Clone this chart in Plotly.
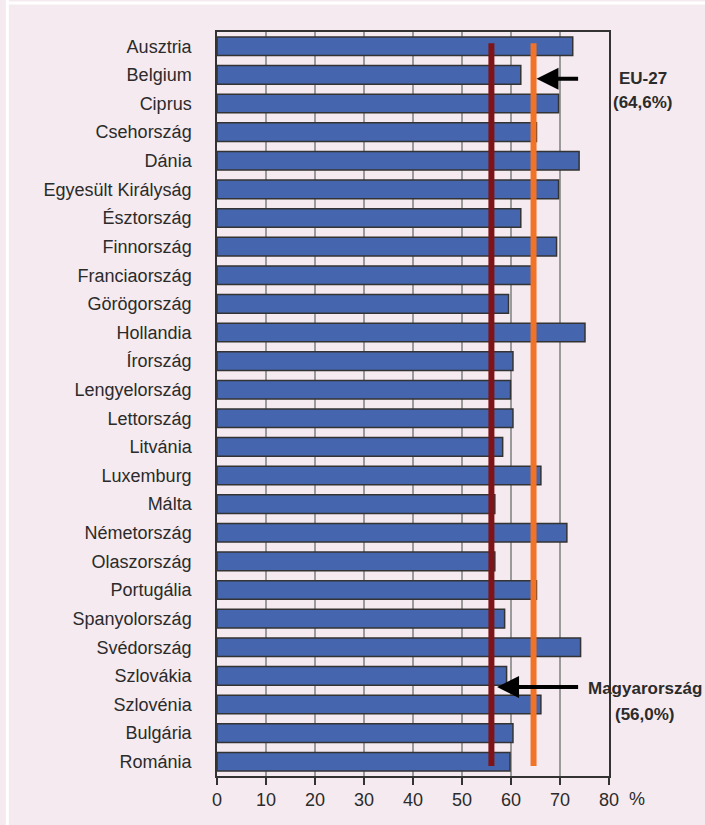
import plotly.graph_objects as go

countries = [
    "Ausztria", "Belgium", "Ciprus", "Csehország", "Dánia", "Egyesült Királyság",
    "Észtország", "Finnország", "Franciaország", "Görögország", "Hollandia",
    "Írország", "Lengyelország", "Lettország", "Litvánia", "Luxemburg", "Málta",
    "Németország", "Olaszország", "Portugália", "Spanyolország", "Svédország",
    "Szlovákia", "Szlovénia", "Bulgária", "Románia",
]
values = [
    72.6, 62.0, 69.7, 65.2, 73.9, 69.7,
    62.0, 69.3, 64.3, 59.5, 75.1,
    60.4, 59.9, 60.4, 58.3, 66.1, 56.7,
    71.4, 56.7, 65.2, 58.7, 74.2,
    59.1, 66.1, 60.4, 59.8,
]
eu27_value = 64.6
hu_value = 56.0
x_ticks = [0, 10, 20, 30, 40, 50, 60, 70, 80]

FONT = "Liberation Sans Narrow, Arial Narrow, Liberation Sans, Arial, sans-serif"
BG = "#F5EAEF"
TXT = "#2b2b2b"

fig = go.Figure()
fig.add_trace(go.Bar(
    x=values, y=countries, orientation="h",
    marker=dict(color="#4566AE", line=dict(color="#333333", width=1.5)),
    hoverinfo="x+y",
))

fig.update_layout(
    width=705, height=825,
    paper_bgcolor=BG, plot_bgcolor=BG,
    margin=dict(l=217, r=96, t=32, b=49),
    bargap=0.35,
    showlegend=False,
    font=dict(family=FONT, size=18, color=TXT),
    xaxis=dict(
        range=[0, 80], tickvals=x_ticks, ticktext=[str(t) for t in x_ticks],
        showgrid=True, gridcolor="#9a9a9a", gridwidth=1.5,
        showline=True, linecolor="#333333", linewidth=1.5, mirror=True,
        ticks="outside", ticklen=7, tickcolor="#333333", tickwidth=1.5,
        zeroline=False, tickfont=dict(family=FONT, size=18, color=TXT),
    ),
    yaxis=dict(
        categoryorder="array", categoryarray=countries,
        range=[len(countries) - 0.5, -0.5],
        showgrid=False, zeroline=False,
        showline=True, linecolor="#333333", linewidth=1.5, mirror=True,
        ticks="", ticklabelstandoff=20,
        tickfont=dict(family=FONT, size=18, color=TXT),
    ),
)

# reference lines (EU-27 average and Hungary)
fig.add_shape(type="line", xref="x", yref="paper", x0=hu_value, x1=hu_value,
              y0=0.0134, y1=0.985, line=dict(color="#7E1418", width=6))
fig.add_shape(type="line", xref="x", yref="paper", x0=eu27_value, x1=eu27_value,
              y0=0.0134, y1=0.985, line=dict(color="#F07328", width=6))

# white frame lines of the page
fig.add_shape(type="line", xref="paper", yref="paper", x0=-0.535, x1=-0.535, y0=-0.07, y1=1.05,
              line=dict(color="white", width=3))
fig.add_shape(type="line", xref="paper", yref="paper", x0=-0.535, x1=1.3, y0=1.039, y1=1.039,
              line=dict(color="white", width=3))

# arrows
fig.add_annotation(x=65.2, y=0.937, xref="x", yref="paper", ax=74.0, ay=0, axref="x", ayref="pixel",
                   text="", showarrow=True, arrowhead=2, arrowsize=1.1, arrowwidth=4, arrowcolor="black")
fig.add_annotation(x=57.15, y=0.1196, xref="x", yref="paper", ax=74.0, ay=0, axref="x", ayref="pixel",
                   text="", showarrow=True, arrowhead=2, arrowsize=1.1, arrowwidth=4, arrowcolor="black")

# annotation texts
ann_font_b = dict(family=FONT, size=17, color=TXT)
fig.add_annotation(x=1.0867, y=0.938, xref="paper", yref="paper", text="<b>EU-27</b>",
                   showarrow=False, xanchor="center", yanchor="middle", font=ann_font_b)
fig.add_annotation(x=1.0867, y=0.905, xref="paper", yref="paper", text="<b>(64,6%)</b>",
                   showarrow=False, xanchor="center", yanchor="middle", font=ann_font_b)
fig.add_annotation(x=1.092, y=0.118, xref="paper", yref="paper", text="<b>Magyarország</b>",
                   showarrow=False, xanchor="center", yanchor="middle", font=ann_font_b)
fig.add_annotation(x=1.092, y=0.082, xref="paper", yref="paper", text="<b>(56,0%)</b>",
                   showarrow=False, xanchor="center", yanchor="middle", font=ann_font_b)
fig.add_annotation(x=1.071, y=-0.031, xref="paper", yref="paper", text="%",
                   showarrow=False, xanchor="center", yanchor="middle",
                   font=dict(family=FONT, size=18, color=TXT))

fig.write_html("out.html", config={"displayModeBar": False},
               post_script="document.body.style.margin='0';document.body.style.overflow='hidden';")
